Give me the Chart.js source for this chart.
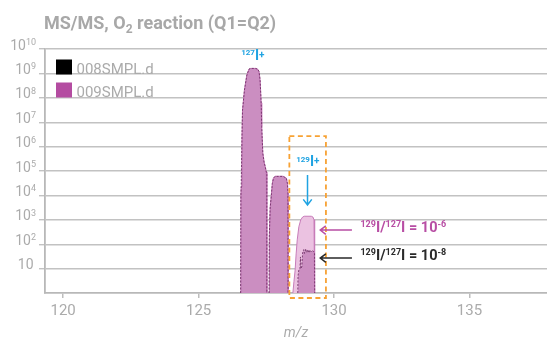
<!DOCTYPE html>
<html>
<head>
<meta charset="utf-8">
<title>MS/MS, O2 reaction (Q1=Q2)</title>
<script src="https://cdn.jsdelivr.net/npm/chart.js@4"></script>
<style>
  html, body { margin: 0; padding: 0; background: #fff; }
  #wrap { width: 547px; height: 339px; }
</style>
</head>
<body>
<div id="wrap"><canvas id="ms-chart" width="547" height="339"></canvas></div>
<script>
// ── Data ──────────────────────────────────────────────────────
const seriesLabels = ["008SMPL.d", "009SMPL.d"];
const xTicks = [120, 125, 130, 135];
const yTicks = [1e1, 1e2, 1e3, 1e4, 1e5, 1e6, 1e7, 1e8, 1e9, 1e10];

// 008SMPL.d  (null = gap between peaks)
const mz008 = [
  126.55, 126.56, 126.57, 126.60, 126.62, 126.69, 126.78, 126.86, 126.92, 127.10, 127.18, 127.23,
  127.27, 127.31, 127.33, 127.37, 127.42, 127.46, 127.50, 127.52, 127.521,
  127.56,
  127.60, 127.61, 127.64, 127.69, 127.72, 127.76, 127.82, 128.12, 128.18, 128.24, 128.28, 128.30, 128.305,
  128.50,
  128.66, 128.67, 128.70, 128.74, 128.76, 128.78, 128.81, 128.84, 128.88, 128.91, 128.95, 128.99,
  129.03, 129.07, 129.11, 129.16, 129.20, 129.25, 129.28, 129.285,
];
const int008 = [
  1, 1e4, 2e4, 2.5e6, 3e7, 2e8, 8.5e8, 1.5e9, 1.6e9, 1.6e9, 1.5e9, 1.2e9,
  5.4e8, 6e7, 6.6e6, 5.4e5, 2.2e5, 1.5e5, 9e4, 8e4, 1,
  null,
  1, 200, 3e3, 1.2e4, 3e4, 5e4, 6e4, 6e4, 5.5e4, 5e4, 3e4, 1.2e4, 1,
  null,
  1, 5, 9, 10, 30, 10, 12, 45, 60, 42, 65, 45,
  60, 44, 58, 48, 55, 50, 45, 1,
];

// 009SMPL.d
const mz009 = [
  126.55, 126.56, 126.57, 126.60, 126.62, 126.69, 126.78, 126.86, 126.92, 127.10, 127.18, 127.23,
  127.27, 127.31, 127.33, 127.37, 127.42, 127.46, 127.50, 127.52, 127.521,
  127.56,
  127.60, 127.61, 127.64, 127.69, 127.72, 127.76, 127.82, 128.12, 128.18, 128.24, 128.28, 128.30, 128.305,
  128.40,
  128.48, 128.52, 128.56, 128.60, 128.64, 128.70, 128.77, 128.84, 128.90, 129.16, 129.22, 129.26, 129.28, 129.285,
];
const int009 = [
  1, 1.1e4, 2.2e4, 2.6e6, 3.1e7, 2.1e8, 8.6e8, 1.5e9, 1.6e9, 1.6e9, 1.5e9, 1.2e9,
  5.5e8, 6.2e7, 6.8e6, 5.5e5, 2.3e5, 1.5e5, 9.2e4, 8.1e4, 1,
  null,
  1, 210, 3.1e3, 1.2e4, 3.1e4, 5.1e4, 6.1e4, 6.1e4, 5.6e4, 5.1e4, 3.1e4, 1.2e4, 1,
  null,
  1, 3, 8, 40, 150, 520, 1000, 1300, 1400, 1400, 1300, 1000, 300, 1,
];

const toPoints = (xs, ys) => xs.map((x, i) => ({ x, y: ys[i] }));

// ── Helpers ───────────────────────────────────────────────────
const FONT = "Roboto, 'Noto Sans', sans-serif";

// draw a run of text pieces: { t, s: size, r: rise, w: weight }
function drawRich(ctx, parts, x, y, align) {
  let total = 0;
  parts.forEach((p) => {
    ctx.font = `${p.w || "bold"} ${p.s}px ${FONT}`;
    p._w = ctx.measureText(p.t).width;
    total += p._w;
  });
  let cx = align === "right" ? x - total : align === "center" ? x - total / 2 : x;
  ctx.textAlign = "left";
  ctx.textBaseline = "alphabetic";
  parts.forEach((p) => {
    ctx.font = `${p.w || "bold"} ${p.s}px ${FONT}`;
    ctx.fillText(p.t, cx, y - (p.r || 0));
    cx += p._w;
  });
}

function arrow(ctx, x1, y1, x2, y2, color) {
  // tip at (x2, y2)
  const a = Math.atan2(y2 - y1, x2 - x1);
  ctx.strokeStyle = color;
  ctx.lineWidth = 1.5;
  ctx.setLineDash([]);
  ctx.beginPath();
  ctx.moveTo(x1, y1);
  ctx.lineTo(x2, y2);
  ctx.moveTo(x2 - 7 * Math.cos(a - 0.65), y2 - 7 * Math.sin(a - 0.65));
  ctx.lineTo(x2, y2);
  ctx.lineTo(x2 - 7 * Math.cos(a + 0.65), y2 - 7 * Math.sin(a + 0.65));
  ctx.stroke();
}

// ── Plugins: title, y labels, legend, annotations ─────────────
const decorations = {
  id: "decorations",
  afterDraw(chart) {
    const { ctx, chartArea: area, scales: { x, y } } = chart;
    ctx.save();

    // title
    ctx.fillStyle = "#a8a8a8";
    drawRich(ctx, [
      { t: "MS/MS, O", s: 18 },
      { t: "2", s: 12, r: -4 },
      { t: " reaction (Q1=Q2)", s: 18 },
    ], 44, 28.5, "left");

    // y tick labels (10^n)
    ctx.fillStyle = "#ababab";
    y.ticks.forEach((t) => {
      const py = y.getPixelForValue(t.value) + 0.5;
      const e = Math.round(Math.log10(t.value));
      if (e === 1) {
        drawRich(ctx, [{ t: "10", s: 14, w: "normal" }], 33.5, py, "right");
      } else {
        drawRich(ctx, [{ t: "10", s: 14, w: "normal" }, { t: String(e), s: 9, r: 4.5, w: "normal" }], 36, py, "right");
      }
    });

    // legend inside plot
    chart.data.datasets.forEach((ds, i) => {
      const bx = area.left + 11, by = area.top + 10.5 + i * 23;
      ctx.fillStyle = ds.legendColor;
      ctx.fillRect(bx, by, 16, 15);
      ctx.fillStyle = "#ababab";
      drawRich(ctx, [{ t: ds.label, s: 15, w: "normal" }], bx + 20.5, by + 14.7, "left");
    });

    // dashed box round the 129 peak
    const bx1 = x.getPixelForValue(128.35), bx2 = x.getPixelForValue(129.70);
    const by1 = y.getPixelForValue(10 ** 6.43), by2 = area.bottom + 5;
    ctx.strokeStyle = "#f7a234";
    ctx.lineWidth = 1.8;
    ctx.setLineDash([5, 3.5]);
    ctx.strokeRect(bx1, by1, bx2 - bx1, by2 - by1);

    // ion labels
    const cyan = "#1fa3e2";
    ctx.fillStyle = cyan;
    drawRich(ctx, [{ t: "127", s: 8, r: 4.5 }, { t: "I", s: 14 }, { t: "+", s: 10, r: 2 }],
      x.getPixelForValue(127.0), 59.5, "center");
    const p129 = x.getPixelForValue(129.03);
    drawRich(ctx, [{ t: "129", s: 8, r: 4.5 }, { t: "I", s: 14 }, { t: "+", s: 10, r: 2 }],
      p129, 166, "center");
    arrow(ctx, x.getPixelForValue(129.02), y.getPixelForValue(10 ** 4.84),
      x.getPixelForValue(129.02), y.getPixelForValue(10 ** 3.61), cyan);

    // ratio arrows + text
    const ratios = [
      { exp: "-6", color: "#b84ea4", level: 10 ** 2.58 },
      { exp: "-8", color: "#2a2a2a", level: 10 ** 1.43 },
    ];
    ratios.forEach((r) => {
      const ay = y.getPixelForValue(r.level);
      const xa = x.getPixelForValue(129.49), xb = x.getPixelForValue(130.66);
      arrow(ctx, xb, ay, xa, ay, r.color);
      ctx.fillStyle = r.color;
      drawRich(ctx, [
        { t: "129", s: 9, r: 5 }, { t: "I/", s: 14.5 },
        { t: "127", s: 9, r: 5 }, { t: "I = 10", s: 14.5 },
        { t: r.exp, s: 9, r: 5 },
      ], xb + 8.5, ay + 2.2, "left");
    });

    ctx.restore();
  },
};

// ── Chart ─────────────────────────────────────────────────────
const ctx = document.getElementById("ms-chart").getContext("2d");
new Chart(ctx, {
  type: "line",
  data: {
    datasets: [
      {
        label: seriesLabels[0],
        data: toPoints(mz008, int008),
        legendColor: "#000000",
        borderColor: "rgba(105,40,95,0.8)",
        borderWidth: 1,
        borderDash: [2, 1.5],
        backgroundColor: "rgba(172,90,162,0.5)",
        fill: "start",
        pointRadius: 0,
        spanGaps: false,
      },
      {
        label: seriesLabels[1],
        data: toPoints(mz009, int009),
        legendColor: "#b44ca1",
        borderColor: "#c77cb9",
        borderWidth: 1,
        backgroundColor: "#ebc2e1",
        fill: "start",
        pointRadius: 0,
        spanGaps: false,
      },
    ],
  },
  options: {
    responsive: false,
    animation: false,
    layout: { padding: { top: 49, left: 0, right: 0, bottom: 0 } },
    plugins: { legend: { display: false }, title: { display: false }, tooltip: { enabled: false } },
    scales: {
      x: {
        type: "linear",
        min: 119.33,
        max: 137.86,
        afterBuildTicks: (s) => { s.ticks = xTicks.map((v) => ({ value: v })); },
        afterFit: (s) => { s.height = 46; },
        grid: { drawOnChartArea: false, drawTicks: true, tickLength: 5, color: "#bdbdbd", lineWidth: 1.5 },
        border: { color: "#b8b8b8", width: 1.8 },
        ticks: { color: "#ababab", font: { family: FONT, size: 15 }, padding: 4, maxRotation: 0 },
        title: {
          display: true, text: "m/z", color: "#ababab",
          font: { family: FONT, size: 14, style: "italic" }, padding: { top: 0, bottom: -3 },
        },
      },
      y: {
        type: "logarithmic",
        min: 1,
        max: 1e10,
        afterBuildTicks: (s) => { s.ticks = yTicks.map((v) => ({ value: v })); },
        afterFit: (s) => { s.width = 45; },
        grid: { color: "#c2c2c2", lineWidth: 1.4, tickLength: 6, drawTicks: true },
        border: { color: "#b8b8b8", width: 1.8 },
        ticks: { display: false },
      },
    },
  },
  plugins: [decorations],
});
</script>
</body>
</html>
